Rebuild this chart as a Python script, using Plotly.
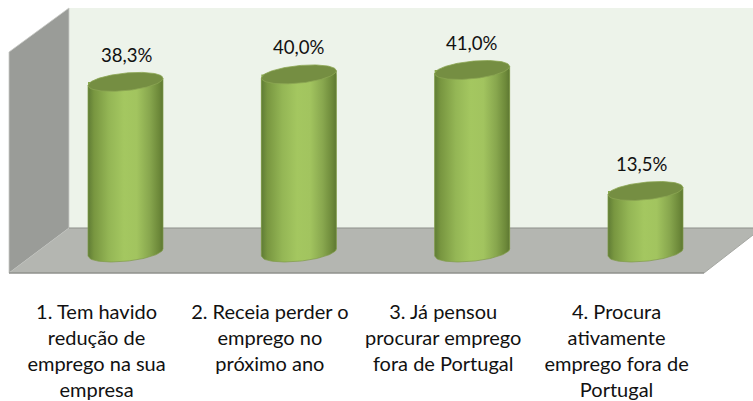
import numpy as np
import plotly.graph_objects as go

categories = ["1. Tem havido<br>redução de<br>emprego na sua<br>empresa",
              "2. Receia perder o<br>emprego no<br>próximo ano",
              "3. Já pensou<br>procurar emprego<br>fora de Portugal",
              "4. Procura<br>ativamente<br>emprego fora de<br>Portugal"]
values = [38.3, 40.0, 41.0, 13.5]
labels = ["38,3%", "40,0%", "41,0%", "13,5%"]
label_shift = [1.5, 0, -0.5, -3.5]

W, H, PLOT_H = 753, 401, 273
PX_X = 173.33          # pixels per category
PX_Y = 4.4             # pixels per percentage point
X0, Y0 = 125.5, 250.4  # pixel position of category 0 / value 0
FONT = "Lato"

xr = [(0 - X0) / PX_X, (W - X0) / PX_X]
yr = [(Y0 - PLOT_H) / PX_Y, Y0 / PX_Y]

HALF = 37.5 / PX_X     # half cylinder width in category units
SKEW = 3.6 / PX_Y      # tilt of the ellipses
MINOR = 8.8 / PX_Y     # vertical semi axis of the ellipses
BOTTOM = -0.47         # floor position of the cylinder bases

SIDE = [[0, "#5f7c35"], [0.08, "#789640"], [0.28, "#94b655"], [0.48, "#a4c760"], [0.65, "#a2c45f"],
        [0.82, "#88a74e"], [0.95, "#6c8839"], [1, "#5d7732"]]


def ellipse_edge(i, v, sign, t):
    return i + HALF * t, v + SKEW * t + sign * MINOR * np.sqrt(np.clip(1 - t * t, 0, 1))


t = np.linspace(-1, 1, 61)
fig = go.Figure()

fig.add_trace(go.Bar(x=list(range(4)), y=values, width=2 * HALF, marker=dict(color="#8aa94e", line_width=0),
                     hoverinfo="skip", showlegend=False))

for i, v in enumerate(values):
    xt, yt = ellipse_edge(i, v, 1, t)
    xb, yb = ellipse_edge(i, BOTTOM, -1, t)
    xs = np.concatenate([xb, xt[::-1], xb[:1]])
    ys = np.concatenate([yb, np.full(61, v) + SKEW * t[::-1], yb[:1]])
    fig.add_trace(go.Scatter(x=xs, y=ys, mode="lines", fill="toself", line=dict(color="#7f9b48", width=0.7),
                             fillgradient=dict(type="horizontal", colorscale=SIDE),
                             hoverinfo="skip", showlegend=False))
    xa, ya = ellipse_edge(i, v, 1, t)
    xc, yc = ellipse_edge(i, v, -1, t[::-1])
    fig.add_trace(go.Scatter(x=np.concatenate([xa, xc]), y=np.concatenate([ya, yc]), mode="lines", fill="toself",
                             fillcolor="#758e42", line=dict(color="#8ba653", width=0.8),
                             hoverinfo="skip", showlegend=False))
    fig.add_annotation(x=i, y=v, text=labels[i], showarrow=False, yanchor="middle", xanchor="center",
                       yshift=27.3, xshift=label_shift[i], font=dict(family=FONT, size=18.6, color="#111111"))


def px_path(points):
    parts = [f"{'M' if k == 0 else 'L'} {x / W:.5f} {1 - y / PLOT_H:.5f}" for k, (x, y) in enumerate(points)]
    return " ".join(parts) + " Z"


def wall(points, fill, line="rgba(0,0,0,0)", width=0):
    fig.add_shape(type="path", path=px_path(points), xref="paper", yref="paper", layer="below",
                  fillcolor=fill, line=dict(color=line, width=width))


wall([(69, 8), (753, 8), (753, 228), (69, 228)], "#edf3ea")
wall([(9, 52), (69, 8), (69, 228), (9, 273)], "#9a9c98", "#c9cac7", 0.8)
wall([(9, 273), (69, 228), (753, 228), (753, 235), (704, 273)], "#b4b6b1")
fig.add_shape(type="line", x0=69 / W, x1=1, y0=1 - 228 / PLOT_H, y1=1 - 228 / PLOT_H, xref="paper", yref="paper",
              layer="below", line=dict(color="#8d8f8b", width=1))
fig.add_shape(type="line", x0=9 / W, x1=704 / W, y0=1 - 273 / PLOT_H, y1=1 - 273 / PLOT_H, xref="paper", yref="paper",
              layer="below", line=dict(color="#8f918d", width=1.6))
fig.add_shape(type="line", x0=704 / W, x1=1, y0=1 - 273 / PLOT_H, y1=1 - 235 / PLOT_H, xref="paper", yref="paper",
              layer="below", line=dict(color="#a5a7a2", width=1))

fig.update_layout(
    width=W, height=H, margin=dict(l=0, r=0, t=0, b=H - PLOT_H, autoexpand=False),
    paper_bgcolor="white", plot_bgcolor="rgba(0,0,0,0)", showlegend=False, hovermode=False,
    xaxis=dict(range=xr, tickmode="array", tickvals=[i - 0.167 for i in range(4)], ticktext=categories,
               showgrid=False, zeroline=False, showline=False, ticks="", ticklabelstandoff=25,
               tickangle=0, tickfont=dict(family=FONT, size=20, color="#111111")),
    yaxis=dict(range=yr, visible=False),
)
fig.write_html("out.html", config=dict(displayModeBar=False),
               post_script="document.documentElement.style.margin='0';document.body.style.margin='0';document.body.style.overflow='hidden';")
